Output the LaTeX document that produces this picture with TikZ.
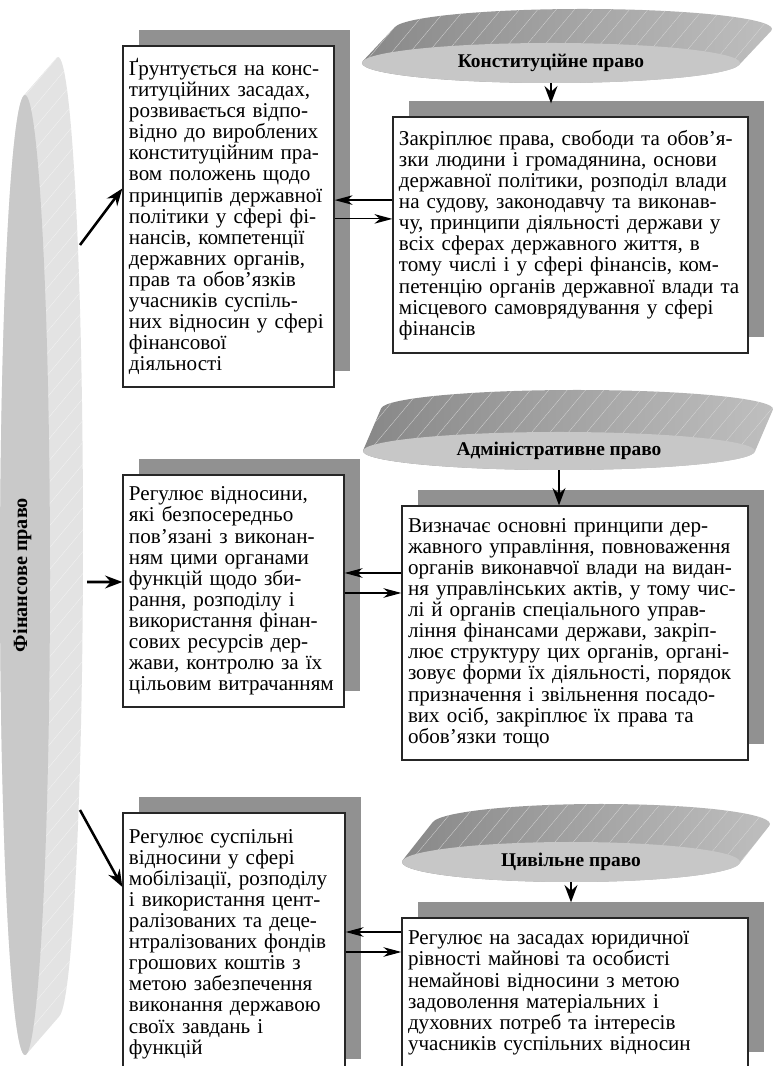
\documentclass[tikz,border=0pt]{standalone}
\usepackage{fontspec}
\setmainfont{Liberation Serif}
\usetikzlibrary{shapes.geometric, arrows.meta, shadows, patterns.meta}

% side of a flat disc: hull of the front ellipse and its copy moved by (dx,dy)
\newcommand{\platerim}[7]{%
  \pgfmathsetmacro{\rima}{atan(-(#4*#5)/(#3*#6))}
  \pgfmathsetmacro{\rimb}{\rima+180}
  \pgfmathsetmacro{\rimc}{\rima-180}
  \path[#7] ({#1+#3*cos(\rimb)},{#2+#4*sin(\rimb)}) -- ++(#5,#6)
    arc[start angle=\rimb, end angle=\rima, x radius=#3, y radius=#4] -- ++(-#5,-#6)
    arc[start angle=\rima, end angle=\rimc, x radius=#3, y radius=#4] -- cycle;}

\begin{document}
\begin{tikzpicture}[x=0.25mm, y=0.25mm, font=\fontsize{15}{15}\selectfont,
  box/.style={draw=black!85, fill=white, line width=0.9pt, align=left, inner xsep=1.5mm,
    drop shadow={shadow xshift=4mm, shadow yshift=4mm, fill=black!43, opacity=1}},
  plate/.style={ellipse, fill=black!22, inner sep=0pt, font=\fontsize{13.8}{15}\selectfont\bfseries},
  streaks/.style={postaction={pattern={Lines[angle=50, distance=10pt, line width=0.2pt]}, pattern color=#1}},
  rimdark/.style={shade, left color=black!47, right color=black!25, streaks=black!15},
  rimlight/.style={fill=black!11, streaks=black!4},
  bigarrow/.style={-{Stealth[length=4.3mm, width=3.2mm, inset=1.4mm]}, line width=1.8pt},
  smallarrow/.style={-{Stealth[length=4.5mm, width=2.4mm, inset=1.4mm]}, line width=0.85pt}]
\useasboundingbox (0,0) rectangle (774,1066);
\clip (0,0) rectangle (774,1066);

% discs
\platerim{25}{491}{25}{480}{33}{38}{rimlight}
\node[plate, fill=black!21, minimum width=240mm, minimum height=12.5mm, rotate=90,
  font=\fontsize{14.4}{15}\selectfont\bfseries] (fin) at (25,491) {\raisebox{2.4mm}{Фінансове право}};
\platerim{551}{1003}{189}{20}{32}{34}{rimdark}
\node[plate, minimum width=94.5mm, minimum height=10mm] (konst) at (551,1003) {Конституційне право};
\platerim{559}{615}{196}{19}{18}{42}{rimdark}
\node[plate, minimum width=98mm, minimum height=9.5mm] (admin) at (559,615) {Адміністративне право};
\platerim{571}{204}{169}{20}{30}{38}{rimdark}
\node[plate, minimum width=84.5mm, minimum height=10mm] (tsyv) at (571,204) {Цивільне право};

\coordinate (f1) at (80,821);
\coordinate (f2) at (87,484);
\coordinate (f3) at (80,256);

% boxes
\node[box, text width=49.75mm, minimum height=85.25mm] (k1) at (228.5,849.5) {Ґрунтується на конс-\\
титуційних засадах,\\
розвивається відпо-\\
відно до вироблених\\
конституційним пра-\\
вом положень щодо\\
принципів державної\\
політики у сфері фі-\\
нансів, компетенції\\
державних органів,\\
прав та обов’язків\\
учасників суспіль-\\
них відносин у сфері\\
фінансової\\
діяльності};
\node[box, text width=85.75mm, minimum height=59mm] (k2) at (570.5,831) {Закріплює права, свободи та обов’я-\\
зки людини і громадянина, основи\\
державної політики, розподіл влади\\
на судову, законодавчу та виконав-\\
чу, принципи діяльності держави у\\
всіх сферах державного життя, в\\
тому числі і у сфері фінансів, ком-\\
петенцію органів державної влади та\\
місцевого самоврядування у сфері\\
фінансів};
\node[box, text width=52.25mm, minimum height=58mm] (a1) at (233.5,475) {Регулює відносини,\\
які безпосередньо\\
пов’язані з виконан-\\
ням цими органами\\
функцій щодо зби-\\
рання, розподілу і\\
використання фінан-\\
сових ресурсів дер-\\
жави, контролю за їх\\
цільовим витрачанням};
\node[box, text width=83.5mm, minimum height=63.5mm] (a2) at (575,433) {Визначає основні принципи дер-\\
жавного управління, повноваження\\
органів виконавчої влади на видан-\\
ня управлінських актів, у тому чис-\\
лі й органів спеціального управ-\\
ління фінансами держави, закріп-\\
лює структуру цих органів, органі-\\
зовує форми їх діяльності, порядок\\
призначення і звільнення посадо-\\
вих осіб, закріплює їх права та\\
обов’язки тощо};
\node[box, text width=52.5mm, minimum height=65.5mm] (t1) at (234,122) {Регулює суспільні\\
відносини у сфері\\
мобілізації, розподілу\\
і використання цент-\\
ралізованих та деце-\\
нтралізованих фондів\\
грошових коштів з\\
метою забезпечення\\
виконання державою\\
своїх завдань і\\
функцій};
\node[box, text width=83.5mm, minimum height=37.5mm] (t2) at (575,73) {Регулює на засадах юридичної\\
рівності майнові та особисті\\
немайнові відносини з метою\\
задоволення матеріальних і\\
духовних потреб та інтересів\\
учасників суспільних відносин};

% arrows
\draw[bigarrow] (f1) -- ([yshift=7mm]k1.west);
\draw[bigarrow] (f2) -- ([yshift=2.25mm]a1.west);
\draw[bigarrow] (f3) -- ([yshift=14.25mm]t1.west);
\draw[bigarrow, shorten >=3.25mm] (konst.south) -- (konst.south |- k2.north);
\draw[bigarrow] (admin.south) -- (admin.south |- a2.north);
\draw[bigarrow, shorten >=3.75mm] (tsyv.south) -- (tsyv.south |- t2.north);
\draw[smallarrow] ([yshift=4.1mm]k1.east -| k2.west) -- ([yshift=4.1mm]k1.east);
\draw[smallarrow] ([yshift=-0.6mm]k1.east) -- ([yshift=-0.6mm]k1.east -| k2.west);
\draw[smallarrow] ([yshift=4.5mm]a1.east -| a2.west) -- ([yshift=4.5mm]a1.east);
\draw[smallarrow] ([yshift=-0.5mm]a1.east) -- ([yshift=-0.5mm]a1.east -| a2.west);
\draw[smallarrow] ([yshift=3mm]t1.east -| t2.west) -- ([yshift=3mm]t1.east);
\draw[smallarrow] ([yshift=-2mm]t1.east) -- ([yshift=-2mm]t1.east -| t2.west);
\end{tikzpicture}
\end{document}
